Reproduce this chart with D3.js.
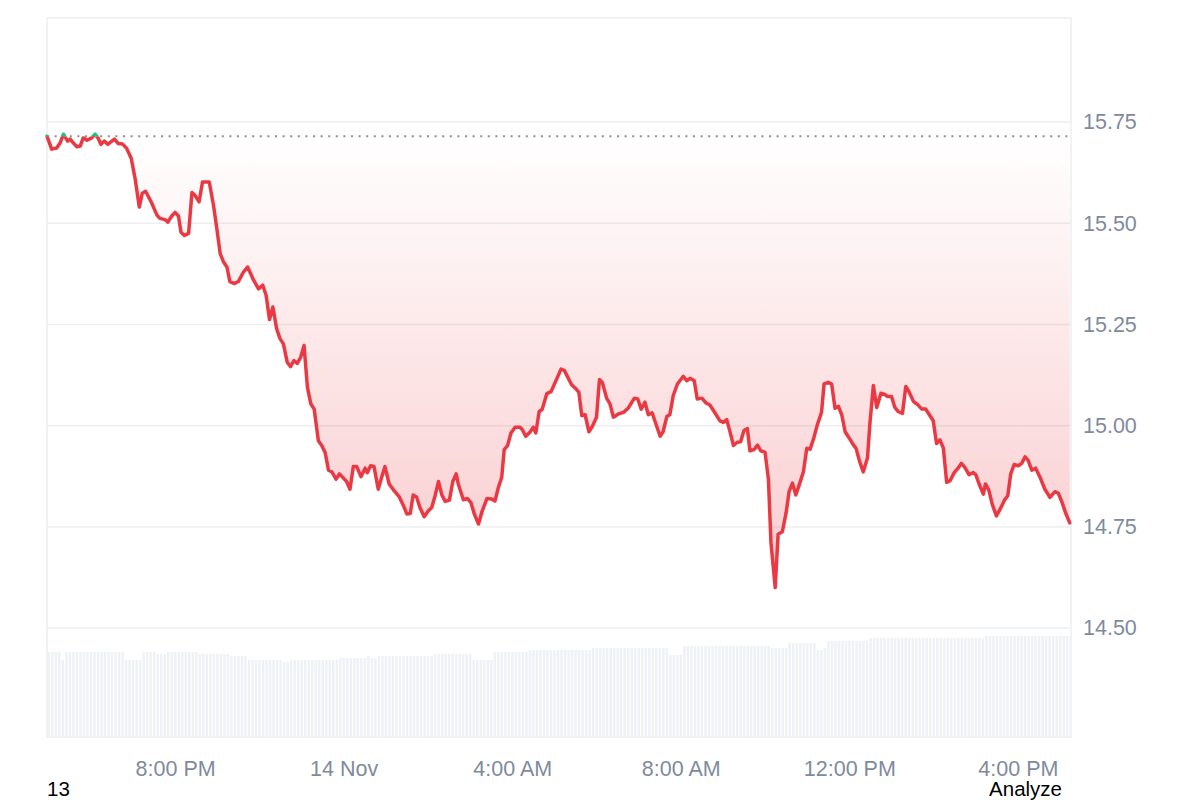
<!DOCTYPE html>
<html lang="en">
<head>
<meta charset="utf-8">
<title>Price chart</title>
<script src="https://cdn.jsdelivr.net/npm/d3@7"></script>
<style>
  body { margin: 0; background: #fff; }
  svg { display: block; font-family: "Liberation Sans", Arial, sans-serif; }
  .axis .tick text { fill: #808a9d; font-size: 21.5px; }
  .axis .domain { display: none; }
  .grid { stroke: #eceef1; stroke-width: 1.5; }
  .stray { font-size: 20.5px; fill: #000; }
</style>
</head>
<body>
<svg width="1200" height="800"></svg>
<script>
// price points, hours counted from 13 Nov 00:00
var priceHours = [
  16.96, 17.07, 17.19, 17.27, 17.35, 17.45, 17.51, 17.56, 17.67, 17.75,
  17.82, 17.91, 18.02, 18.10, 18.17, 18.24, 18.32, 18.40, 18.56, 18.65,
  18.75, 18.85, 18.96, 19.05, 19.15, 19.22, 19.30, 19.43, 19.57, 19.64,
  19.76, 19.83, 19.92, 20.00, 20.08, 20.14, 20.22, 20.32, 20.40, 20.47,
  20.57, 20.65, 20.73, 20.81, 20.91, 20.99, 21.07, 21.15, 21.23, 21.30,
  21.41, 21.50, 21.62, 21.72, 21.80, 21.86, 21.98, 22.08, 22.16, 22.24,
  22.32, 22.41, 22.49, 22.57, 22.66, 22.74, 22.82, 22.90, 22.98, 23.06,
  23.14, 23.22, 23.30, 23.40, 23.48, 23.56, 23.64, 23.72, 23.82, 23.90,
  23.99, 24.07, 24.15, 24.23, 24.31, 24.41, 24.51, 24.56, 24.64, 24.72,
  24.82, 24.90, 24.98, 25.08, 25.20, 25.32, 25.42, 25.50, 25.58, 25.65,
  25.73, 25.81, 25.91, 26.01, 26.09, 26.17, 26.25, 26.33, 26.41, 26.51,
  26.59, 26.67, 26.72, 26.84, 26.94, 27.02, 27.10, 27.20, 27.28, 27.40,
  27.51, 27.59, 27.67, 27.75, 27.81, 27.89, 27.97, 28.07, 28.19, 28.24,
  28.32, 28.42, 28.50, 28.56, 28.64, 28.71, 28.82, 28.92, 29.02, 29.16,
  29.24, 29.33, 29.41, 29.51, 29.58, 29.65, 29.73, 29.82, 29.90, 30.00,
  30.07, 30.14, 30.24, 30.32, 30.40, 30.52, 30.64, 30.75, 30.90, 30.98,
  31.06, 31.15, 31.23, 31.32, 31.41, 31.51, 31.58, 31.67, 31.74, 31.82,
  31.92, 32.06, 32.14, 32.22, 32.32, 32.39, 32.50, 32.60, 32.69, 32.81,
  32.93, 33.01, 33.09, 33.17, 33.25, 33.34, 33.42, 33.50, 33.58, 33.64,
  33.74, 33.82, 33.90, 34.00, 34.08, 34.14, 34.24, 34.31, 34.41, 34.50,
  34.57, 34.65, 34.73, 34.83, 34.91, 34.99, 35.07, 35.16, 35.24, 35.34,
  35.40, 35.50, 35.58, 35.66, 35.74, 35.82, 35.90, 36.00, 36.08, 36.16,
  36.24, 36.33, 36.43, 36.49, 36.57, 36.65, 36.75, 36.84, 36.91, 37.00,
  37.08, 37.16, 37.26, 37.34, 37.41, 37.52, 37.62, 37.72, 37.81, 37.91,
  37.99, 38.07, 38.15, 38.23, 38.31, 38.39, 38.49, 38.58, 38.66, 38.74,
  38.84, 38.94, 39.00, 39.08, 39.18, 39.23, 39.31, 39.39, 39.49, 39.60,
  39.68, 39.76, 39.83, 39.91, 40.01, 40.09, 40.17, 40.24, 40.33, 40.42,
  40.52, 40.64, 40.76, 40.88, 40.96, 41.05, 41.13, 41.23
];
var prices = [
  15.715, 15.683, 15.686, 15.698, 15.720, 15.703, 15.708, 15.701, 15.689, 15.691,
  15.711, 15.705, 15.711, 15.720, 15.711, 15.695, 15.703, 15.695, 15.708, 15.697,
  15.696, 15.685, 15.660, 15.611, 15.540, 15.574, 15.579, 15.553, 15.520, 15.512,
  15.509, 15.503, 15.518, 15.527, 15.518, 15.478, 15.470, 15.475, 15.576, 15.569,
  15.553, 15.602, 15.602, 15.602, 15.545, 15.487, 15.425, 15.404, 15.392, 15.356,
  15.351, 15.356, 15.379, 15.392, 15.374, 15.360, 15.338, 15.347, 15.322, 15.262,
  15.293, 15.239, 15.215, 15.202, 15.157, 15.146, 15.161, 15.154, 15.169, 15.198,
  15.095, 15.054, 15.041, 14.963, 14.951, 14.934, 14.890, 14.886, 14.868, 14.881,
  14.871, 14.862, 14.843, 14.899, 14.899, 14.874, 14.895, 14.884, 14.901, 14.899,
  14.843, 14.872, 14.899, 14.856, 14.839, 14.824, 14.802, 14.782, 14.783, 14.829,
  14.824, 14.798, 14.775, 14.790, 14.798, 14.827, 14.862, 14.829, 14.813, 14.816,
  14.862, 14.881, 14.856, 14.817, 14.820, 14.810, 14.782, 14.757, 14.787, 14.820,
  14.819, 14.814, 14.847, 14.872, 14.941, 14.951, 14.982, 14.996, 14.996, 14.990,
  14.974, 14.984, 14.996, 14.982, 15.035, 15.040, 15.079, 15.084, 15.107, 15.140,
  15.136, 15.117, 15.101, 15.091, 15.083, 15.025, 15.027, 14.985, 14.998, 15.021,
  15.114, 15.106, 15.068, 15.054, 15.021, 15.029, 15.033, 15.043, 15.068, 15.066,
  15.041, 15.058, 15.027, 15.032, 15.004, 14.974, 14.985, 15.023, 15.027, 15.074,
  15.103, 15.122, 15.111, 15.117, 15.111, 15.066, 15.068, 15.056, 15.051, 15.032,
  15.012, 15.008, 15.015, 14.984, 14.951, 14.959, 14.960, 14.988, 14.993, 14.938,
  14.941, 14.952, 14.938, 14.934, 14.868, 14.711, 14.600, 14.732, 14.738, 14.785,
  14.837, 14.858, 14.829, 14.860, 14.886, 14.944, 14.942, 14.971, 15.002, 15.033,
  15.103, 15.107, 15.103, 15.043, 15.048, 15.027, 14.985, 14.969, 14.955, 14.944,
  14.913, 14.886, 14.920, 15.008, 15.099, 15.045, 15.080, 15.077, 15.072, 15.072,
  15.045, 15.035, 15.030, 15.097, 15.085, 15.060, 15.052, 15.041, 15.041, 15.025,
  15.012, 14.956, 14.965, 14.945, 14.860, 14.864, 14.884, 14.895, 14.907, 14.897,
  14.879, 14.884, 14.879, 14.856, 14.831, 14.856, 14.841, 14.806, 14.777, 14.798,
  14.816, 14.827, 14.881, 14.904, 14.901, 14.907, 14.923, 14.915, 14.890, 14.895,
  14.874, 14.843, 14.823, 14.837, 14.833, 14.810, 14.785, 14.760
];
// 5-minute volume bars (millions), first bar at 16:58
var volumeStartHour = 16 + 58 / 60;
var volumes = [
  85, 85, 85, 85, 77, 85, 85, 85, 85, 85, 85, 85, 85, 85, 85, 85, 85, 85, 85, 85,
  85, 85, 77, 77, 77, 77, 77, 85, 85, 85, 85, 83, 83, 83, 85, 85, 85, 85, 85, 85,
  85, 85, 85, 83, 83, 83, 83, 83, 83, 83, 83, 83, 81, 81, 81, 81, 81, 77, 77, 77,
  77, 77, 77, 77, 77, 77, 77, 75, 75, 77, 77, 77, 77, 77, 77, 77, 77, 77, 77, 77,
  77, 77, 77, 79, 79, 79, 79, 79, 79, 79, 79, 81, 79, 79, 81, 81, 81, 81, 81, 81,
  81, 81, 81, 81, 81, 81, 81, 81, 81, 81, 83, 83, 83, 83, 83, 83, 83, 83, 83, 83,
  83, 77, 77, 77, 77, 77, 77, 85, 85, 85, 85, 85, 85, 85, 85, 85, 85, 87, 87, 87,
  87, 87, 87, 87, 87, 87, 87, 87, 87, 87, 87, 87, 87, 87, 87, 89, 89, 89, 89, 89,
  89, 89, 89, 89, 89, 89, 89, 89, 89, 89, 89, 89, 89, 89, 89, 89, 89, 82, 82, 82,
  82, 91, 91, 91, 91, 91, 91, 91, 91, 91, 91, 91, 91, 91, 91, 91, 91, 91, 91, 91,
  91, 91, 91, 91, 91, 91, 89, 89, 89, 89, 89, 94, 94, 94, 94, 94, 94, 94, 94, 87,
  87, 89, 96, 96, 96, 96, 96, 96, 96, 96, 96, 96, 96, 96, 99, 99, 99, 99, 99, 99,
  99, 99, 99, 99, 99, 99, 99, 99, 99, 99, 99, 99, 99, 99, 99, 99, 99, 99, 99, 99,
  99, 99, 99, 99, 99, 99, 99, 101, 101, 101, 101, 101, 101, 101, 101, 101, 101, 101, 101, 101,
  101, 101, 101, 101, 101, 101, 101, 101, 101, 101, 101, 101
];
var yTicks = [14.5, 14.75, 15, 15.25, 15.5, 15.75];
var xTickHours = [20, 24, 28, 32, 36, 40];
var hourDomain = [16.96, 41.26];
var priceDomain = [14.231, 16.007];
var volumeDomain = [0, 110];

var day0 = new Date(2024, 10, 13);
function toDate(h) { return new Date(day0.getTime() + h * 3600e3); }

var svg = d3.select("svg"),
    plotL = 47, plotR = 1071, plotT = 18, plotB = 737;

var x = d3.scaleTime().domain(hourDomain.map(toDate)).range([plotL, plotR]);
var y = d3.scaleLinear().domain(priceDomain).range([plotB, plotT]);
var yv = d3.scaleLinear().domain(volumeDomain).range([plotB, plotB - 110]);

var data = priceHours.map(function(h, i) { return { t: toDate(h), p: prices[i] }; });
var base = prices[0];
var minPrice = d3.min(prices);

var defs = svg.append("defs");
defs.append("clipPath").attr("id", "plot")
  .append("rect").attr("x", plotL).attr("y", plotT).attr("width", plotR - plotL).attr("height", plotB - plotT);
defs.append("clipPath").attr("id", "below")
  .append("rect").attr("x", plotL - 2).attr("y", y(base)).attr("width", plotR - plotL + 4).attr("height", plotB - y(base));
defs.append("clipPath").attr("id", "above")
  .append("rect").attr("x", plotL - 2).attr("y", plotT).attr("width", plotR - plotL + 4).attr("height", y(base) - plotT);

var grad = defs.append("linearGradient").attr("id", "redFill")
  .attr("gradientUnits", "userSpaceOnUse")
  .attr("x1", 0).attr("x2", 0).attr("y1", y(base)).attr("y2", y(minPrice));
grad.append("stop").attr("offset", 0).attr("stop-color", "#ea3943").attr("stop-opacity", 0.0);
grad.append("stop").attr("offset", 1).attr("stop-color", "#ea3943").attr("stop-opacity", 0.26);

// frame and grid
svg.append("g").selectAll("line").data(yTicks).enter().append("line")
  .attr("class", "grid")
  .attr("x1", plotL).attr("x2", plotR)
  .attr("y1", function(d) { return y(d); }).attr("y2", function(d) { return y(d); });
svg.append("rect").attr("x", plotL).attr("y", plotT).attr("width", plotR - plotL).attr("height", plotB - plotT)
  .attr("fill", "none").attr("stroke", "#eceef1").attr("stroke-width", 1.5);

// volume bars
var vols = volumes.map(function(v, i) { return { t0: toDate(volumeStartHour + i / 12), t1: toDate(volumeStartHour + (i + 1) / 12), v: v }; });
svg.append("g").attr("clip-path", "url(#plot)")
  .selectAll("rect").data(vols).enter().append("rect")
  .attr("x", function(d) { return x(d.t0) + 0.3; })
  .attr("width", function(d) { return x(d.t1) - x(d.t0) - 1; })
  .attr("y", function(d) { return yv(d.v); })
  .attr("height", function(d) { return plotB - yv(d.v); })
  .attr("fill", "#eff2f5");

// area between price and opening price
var area = d3.area()
  .x(function(d) { return x(d.t); })
  .y0(y(base))
  .y1(function(d) { return y(d.p); });
svg.append("path").datum(data).attr("d", area)
  .attr("fill", "url(#redFill)").attr("clip-path", "url(#below)");
svg.append("path").datum(data).attr("d", area)
  .attr("fill", "#16c784").attr("fill-opacity", 0.1).attr("clip-path", "url(#above)");

// opening price dotted line
svg.append("line")
  .attr("x1", plotL).attr("x2", plotR).attr("y1", y(base)).attr("y2", y(base))
  .attr("stroke", "#8f8f8f").attr("stroke-width", 2).attr("stroke-dasharray", "2 5.6");

var line = d3.line()
  .x(function(d) { return x(d.t); })
  .y(function(d) { return y(d.p); });
svg.append("path").datum(data).attr("d", line)
  .attr("fill", "none").attr("stroke", "#ea3943").attr("stroke-width", 3.5)
  .attr("stroke-linejoin", "round").attr("stroke-linecap", "round")
  .attr("clip-path", "url(#below)");
svg.append("path").datum(data).attr("d", line)
  .attr("fill", "none").attr("stroke", "#16c784").attr("stroke-width", 3.5)
  .attr("stroke-linejoin", "round").attr("stroke-linecap", "round")
  .attr("clip-path", "url(#above)");

// axes
svg.append("g").attr("class", "axis")
  .attr("transform", "translate(" + plotR + ",0)")
  .call(d3.axisRight(y).tickValues(yTicks).tickFormat(d3.format(".2f")).tickSize(0).tickPadding(12));

var fmtTime = d3.timeFormat("%-I:%M %p"), fmtDay = d3.timeFormat("%-d %b");
svg.append("g").attr("class", "axis")
  .attr("transform", "translate(0," + plotB + ")")
  .call(d3.axisBottom(x).tickValues(xTickHours.map(toDate))
    .tickFormat(function(d) { return d.getHours() === 0 ? fmtDay(d) : fmtTime(d); })
    .tickSize(0).tickPadding(24));

svg.append("text").attr("class", "stray").attr("x", 47).attr("y", 795.5).text("13");
svg.append("text").attr("class", "stray").attr("x", 1062).attr("y", 795.5)
  .attr("text-anchor", "end").text("Analyze");
</script>
</body>
</html>
